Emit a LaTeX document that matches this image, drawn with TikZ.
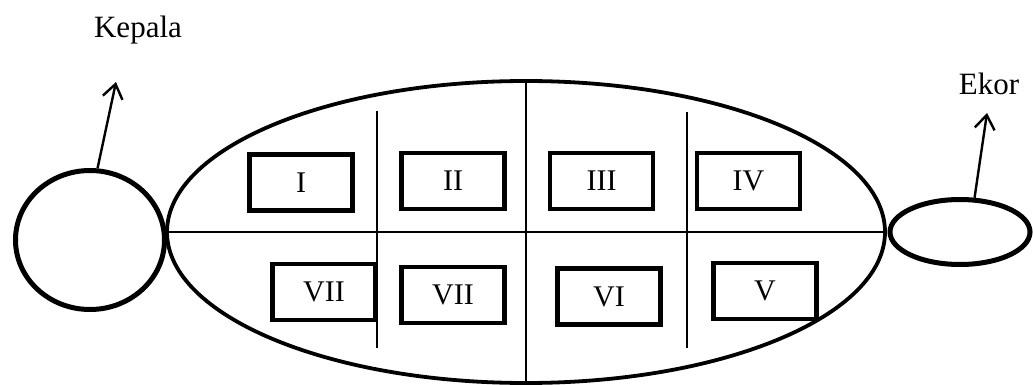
\documentclass[tikz,border=0pt]{standalone}
\usepackage{fontspec}
\setmainfont{Liberation Serif}
\usetikzlibrary{shapes.geometric,arrows.meta}
\tikzset{
  part/.style={draw, line width=4.2pt, minimum width=103pt, minimum height=56pt,
    inner sep=0pt, font=\fontsize{30}{35}\selectfont},
  label/.style={inner sep=0pt, font=\fontsize{31}{37}\selectfont},
  divider/.style={line width=1.7pt},
  pointer/.style={line width=2.4pt, -{Straight Barb[length=14pt,width=20pt,line width=2.4pt]}},
}
\begin{document}
\begin{tikzpicture}[x=1pt,y=-1pt]
  \useasboundingbox (0,0) rectangle (1033,385);

  % body, head and tail
  \node[ellipse, draw, line width=3.8pt, minimum width=718pt, minimum height=302pt, inner sep=0pt]
    (body) at (526,232) {};
  \node[ellipse, draw, line width=5pt, minimum width=149pt, minimum height=139pt, inner sep=0pt]
    (head) at (90,240) {};
  \node[ellipse, draw, line width=5pt, minimum width=140pt, minimum height=65pt, inner sep=0pt]
    (tail) at (960,232) {};

  % dividing lines
  \coordinate (v1t) at (377,111);
  \coordinate (v1b) at (377,348);
  \coordinate (v2t) at (687,112);
  \coordinate (v2b) at (687,348);
  \draw[divider] (body.west) -- (body.east);
  \draw[divider] (body.north) -- (body.south);
  \draw[divider] (v1t) -- (v1b);
  \draw[divider] (v2t) -- (v2b);

  % segments
  \node[part] (p1) at (301,182.5) {I};
  \node[part] (p2) at (453,181) {II};
  \node[part] (p3) at (601.5,181) {III};
  \node[part] (p4) at (748.5,181) {IV};
  \node[part] (p7a) at (324,292) {VII};
  \node[part] (p7b) at (453,295) {VII};
  \node[part] (p6) at (609,296.5) {VI};
  \node[part] (p5) at (765,291) {V};

  % labels with pointers
  \node[label] (kepala) at (138,30) {Kepala};
  \node[label] (ekor) at (989,84) {Ekor};
  \coordinate (kepalatip) at (116,82);
  \coordinate (ekortip) at (987,113);
  \draw[pointer] (head.84) -- (kepalatip);
  \draw[pointer] (tail.67) -- (ekortip);
\end{tikzpicture}
\end{document}
